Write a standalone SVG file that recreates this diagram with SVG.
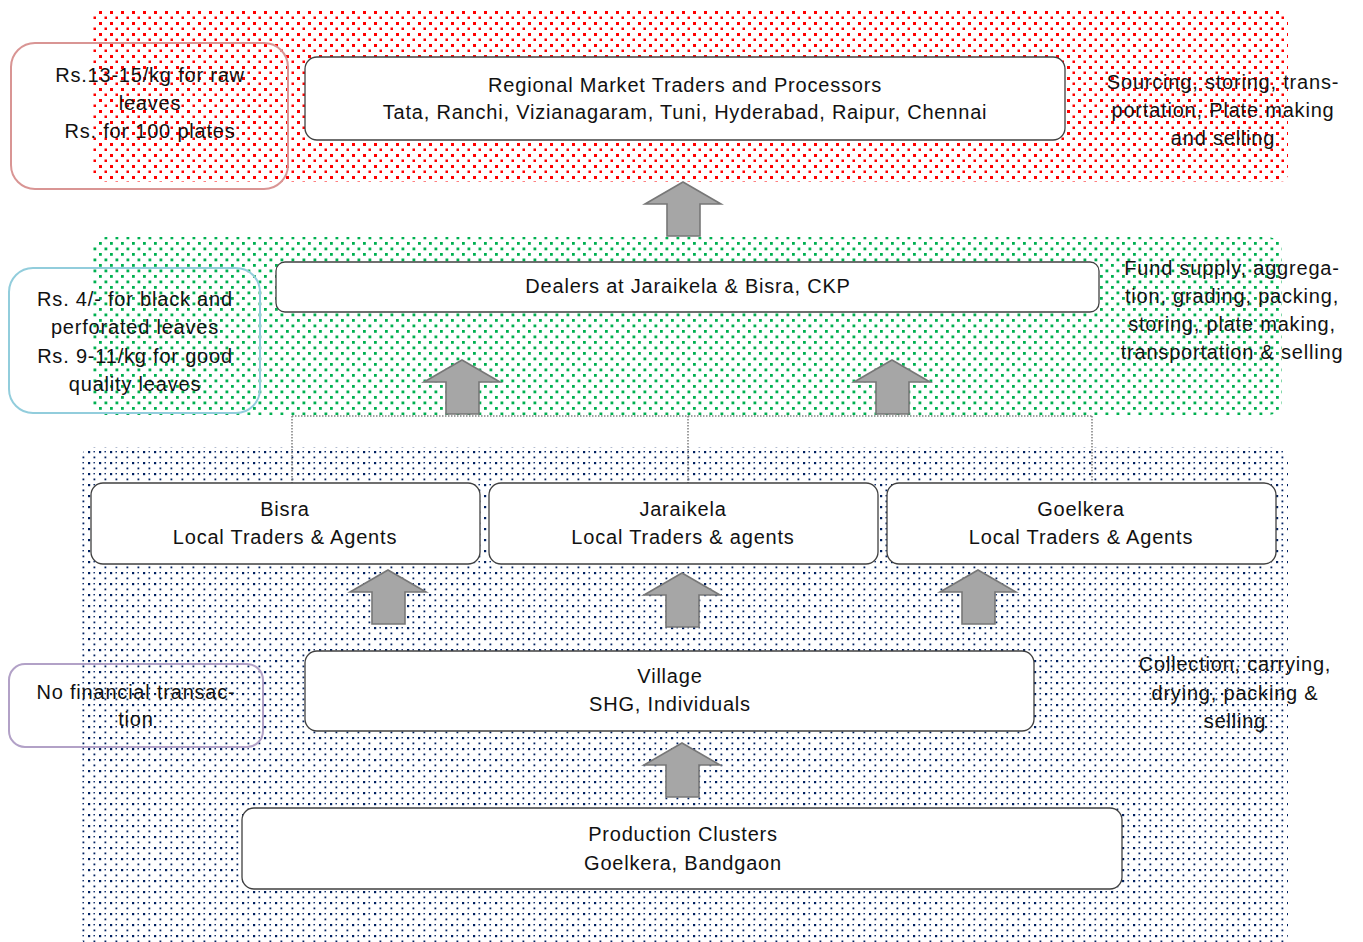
<svg xmlns="http://www.w3.org/2000/svg" width="1363" height="942" viewBox="0 0 1363 942">
  <defs>
    <pattern id="dotsRed" width="11" height="11" patternUnits="userSpaceOnUse">
      <rect x="0" y="0" width="3" height="3" fill="#ff0000"/>
      <rect x="5.5" y="5.5" width="2.5" height="2.5" fill="#ff0000"/>
    </pattern>
    <pattern id="dotsGreen" width="11" height="11" patternUnits="userSpaceOnUse">
      <rect x="0" y="0" width="2.8" height="2.8" fill="#00b050"/>
      <rect x="5.5" y="5.5" width="2.8" height="2.8" fill="#00b050"/>
    </pattern>
    <pattern id="dotsBlue" width="11" height="11" patternUnits="userSpaceOnUse">
      <rect x="0" y="0" width="2.2" height="2.2" fill="#002060"/>
      <rect x="5.5" y="5.5" width="1.8" height="1.8" fill="#002060"/>
      <rect x="5.5" y="0" width="1.4" height="1.4" fill="#002060"/>
    </pattern>
    <path id="blockArrow" d="M0,-27 L38,-5 L17,-5 L17,27 L-16,27 L-16,-5 L-38,-5 Z"/>
  </defs>
  <style>
    .node rect { fill: #ffffff; stroke: #404040; stroke-width: 1.3; }
    .t { font-family: "Liberation Sans", Arial, sans-serif; font-size: 20px; letter-spacing: 0.8px; fill: #111111; text-anchor: middle; }
    .note { fill: none; stroke-width: 2; }
    .arrow { fill: #a6a6a6; stroke: #777777; stroke-width: 1.6; stroke-linejoin: miter; }
    .dotted { fill: none; stroke: #7f7f7f; stroke-width: 1.5; stroke-dasharray: 1.5 1.5; }
  </style>

  <!-- background bands -->
  <g id="bands">
    <rect x="92" y="11" width="1196" height="171" rx="8" fill="url(#dotsRed)"/>
    <rect x="92" y="237" width="1190" height="178" rx="14" fill="url(#dotsGreen)"/>
    <rect x="80" y="447" width="1208" height="500" rx="14" fill="url(#dotsBlue)"/>
  </g>

  <!-- connectors -->
  <g id="connectors">
    <path class="dotted" d="M292,416 L1092,416 M292,416 L292,483 M688,416 L688,483 M1092,416 L1092,483"/>
    <use href="#blockArrow" class="arrow" transform="translate(683,209)"/>
    <use href="#blockArrow" class="arrow" transform="translate(462,387)"/>
    <use href="#blockArrow" class="arrow" transform="translate(892,387)"/>
    <use href="#blockArrow" class="arrow" transform="translate(388,597)"/>
    <use href="#blockArrow" class="arrow" transform="translate(682,600)"/>
    <use href="#blockArrow" class="arrow" transform="translate(978,597)"/>
    <use href="#blockArrow" class="arrow" transform="translate(682,770)"/>
  </g>

  <!-- nodes -->
  <g id="regional" class="node">
    <rect x="305" y="57" width="760" height="83" rx="12"/>
    <text class="t" x="685" y="92">Regional Market Traders and Processors</text>
    <text class="t" x="685" y="119">Tata, Ranchi, Vizianagaram, Tuni, Hyderabad, Raipur, Chennai</text>
  </g>
  <g id="dealers" class="node">
    <rect x="276" y="262" width="823" height="50" rx="9"/>
    <text class="t" x="688" y="293">Dealers at Jaraikela &amp; Bisra, CKP</text>
  </g>
  <g id="bisra" class="node">
    <rect x="91" y="483" width="389" height="81" rx="12"/>
    <text class="t" x="285" y="516">Bisra</text>
    <text class="t" x="285" y="544">Local Traders &amp; Agents</text>
  </g>
  <g id="jaraikela" class="node">
    <rect x="489" y="483" width="389" height="81" rx="12"/>
    <text class="t" x="683" y="516">Jaraikela</text>
    <text class="t" x="683" y="544">Local Traders &amp; agents</text>
  </g>
  <g id="goelkera" class="node">
    <rect x="887" y="483" width="389" height="81" rx="12"/>
    <text class="t" x="1081" y="516">Goelkera</text>
    <text class="t" x="1081" y="544">Local Traders &amp; Agents</text>
  </g>
  <g id="village" class="node">
    <rect x="305" y="651" width="729" height="80" rx="12"/>
    <text class="t" x="670" y="683">Village</text>
    <text class="t" x="670" y="711">SHG, Individuals</text>
  </g>
  <g id="production" class="node">
    <rect x="242" y="808" width="880" height="81" rx="12"/>
    <text class="t" x="683" y="841">Production Clusters</text>
    <text class="t" x="683" y="870">Goelkera, Bandgaon</text>
  </g>

  <!-- price notes on the left -->
  <g id="note-regional">
    <rect class="note" x="11" y="43" width="277" height="146" rx="24" stroke="#d99594"/>
    <text class="t" x="150" y="82">Rs.13-15/kg for raw</text>
    <text class="t" x="150" y="110">leaves</text>
    <text class="t" x="150" y="138">Rs. for 100 plates</text>
  </g>
  <g id="note-dealers">
    <rect class="note" x="9" y="268" width="251" height="145" rx="24" stroke="#92cddc"/>
    <text class="t" x="135" y="306">Rs. 4/- for black and</text>
    <text class="t" x="135" y="334">perforated leaves</text>
    <text class="t" x="135" y="363">Rs. 9-11/kg for good</text>
    <text class="t" x="135" y="391">quality leaves</text>
  </g>
  <g id="note-village">
    <rect class="note" x="9" y="664" width="254" height="83" rx="16" stroke="#b2a1c7"/>
    <text class="t" x="136" y="699">No financial transac-</text>
    <text class="t" x="136" y="726">tion</text>
  </g>

  <!-- activity labels on the right -->
  <g id="activity-regional">
    <text class="t" x="1223" y="89">Sourcing, storing, trans-</text>
    <text class="t" x="1223" y="117">portation, Plate making</text>
    <text class="t" x="1223" y="145">and selling</text>
  </g>
  <g id="activity-dealers">
    <text class="t" x="1232" y="275">Fund supply, aggrega-</text>
    <text class="t" x="1232" y="303">tion, grading, packing,</text>
    <text class="t" x="1232" y="331">storing, plate making,</text>
    <text class="t" x="1232" y="359">transportation &amp; selling</text>
  </g>
  <g id="activity-village">
    <text class="t" x="1235" y="671">Collection, carrying,</text>
    <text class="t" x="1235" y="700">drying, packing &amp;</text>
    <text class="t" x="1235" y="728">selling</text>
  </g>
</svg>
